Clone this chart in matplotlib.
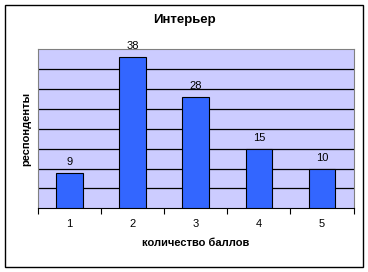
import matplotlib.pyplot as plt
from matplotlib.patches import Rectangle

categories = ["1", "2", "3", "4", "5"]
values = [9, 38, 28, 15, 10]

plt.rcParams["font.family"] = ["Liberation Sans", "DejaVu Sans"]

fig = plt.figure(figsize=(3.68, 2.72), dpi=100)
ax = fig.add_axes([38 / 368, 1 - 208.3 / 272, 315.5 / 368, 159 / 272])

x = list(range(len(categories)))
ax.bar(x, values, width=0.42, color="#3366ff", edgecolor="black", linewidth=0.8, zorder=3)
for xi, v in zip(x, values):
    ax.text(xi, v + 1.5, str(v), ha="center", va="bottom", fontsize=8)

ax.set_xlim(-0.5, len(categories) - 0.5)
ax.set_ylim(0, 40)
ax.set_facecolor("#ccccff")
ax.set_yticks(range(5, 40, 5))
ax.yaxis.grid(True, color="black", linewidth=0.9, zorder=1)
ax.tick_params(axis="y", left=False, labelleft=False)

ax.set_xticks(x)
ax.set_xticklabels(categories, fontsize=8)
ax.set_xticks([i - 0.5 for i in range(len(categories) + 1)], minor=True)
ax.tick_params(axis="x", which="major", length=0, pad=8)
ax.tick_params(axis="x", which="minor", length=4, width=0.8, direction="out")

for side in ["top", "right", "left"]:
    ax.spines[side].set_color("#808080")
ax.spines["bottom"].set_color("black")

ax.set_xlabel("количество баллов", fontsize=8, fontweight="bold", labelpad=6)
ax.set_ylabel("респонденты", fontsize=8, fontweight="bold", labelpad=5)
fig.text(0.5, 1 - 20 / 272, "Интерьер", ha="center", va="center", fontsize=9.5, fontweight="bold")

fig.patches.append(Rectangle((5 / 368, 5 / 272), 357.5 / 368, 262 / 272, transform=fig.transFigure,
                             fill=False, edgecolor="black", linewidth=1))

fig.savefig("out.png", dpi=100)
